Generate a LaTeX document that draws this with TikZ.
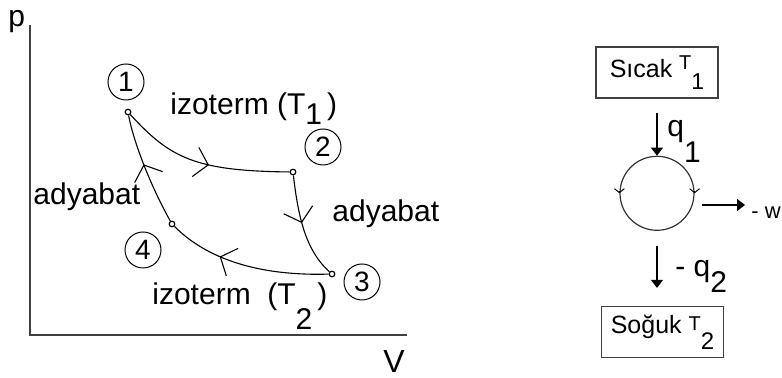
\documentclass[tikz,border=0pt]{standalone}
\usepackage{fontspec}
\setmainfont{Liberation Sans}
\usetikzlibrary{arrows.meta, positioning, decorations.markings}
\newcommand{\lowsub}[2]{\raisebox{-#1}{#2}}
\tikzset{
  plottext/.style  = {anchor=base west, inner sep=0pt, font=\fontsize{15}{18}\selectfont},
  statenum/.style  = {draw, circle, minimum size=18pt, inner sep=0pt, line width=0.5pt,
                      font=\fontsize{14}{16}\selectfont},
  statept/.style   = {draw, circle, minimum size=2.8pt, inner sep=0pt, line width=0.6pt},
  process/.style   = {-, line width=0.55pt},
  midbarb/.style   = {postaction={decorate}, decoration={markings,
                      mark=at position #1 with {\arrow{Straight Barb[length=6.5pt,width=15pt]}}}},
  axis/.style      = {-, line width=0.8pt, black!75},
  reservoir/.style = {draw=black!75, line width=0.7pt, minimum width=61pt,
                      minimum height=25.5pt, inner sep=0pt, font=\fontsize{12.5}{14}\selectfont},
  enginecirc/.style= {draw=black!80, circle, line width=0.6pt, minimum size=37pt, inner sep=0pt},
  heatflow/.style  = {-{Triangle[length=4pt,width=6pt]}, line width=0.6pt},
  ticktip/.style   = {-{Straight Barb[length=2pt,width=5pt]}, line width=0.5pt},
}

\begin{document}
\begin{tikzpicture}[x=0.5pt, y=-0.5pt]
    \useasboundingbox (0,0) rectangle (782,378);

    % --- axes ---------------------------------------------------------------
    \coordinate (ptop) at (30,25);
    \coordinate (origin) at (30,335);
    \coordinate (vend) at (407,335);
    \draw[axis] (ptop) -- (origin) -- (vend);
    \node[plottext, font=\fontsize{15}{18}\selectfont] (plab) at (8,27) {p};
    \node[plottext, font=\fontsize{16}{18}\selectfont] (vlab) at (383,373) {V};

    % --- states -------------------------------------------------------------
    \node[statept] (s1) at (128,112) {};
    \node[statept] (s2) at (293,172) {};
    \node[statept] (s3) at (332,274) {};
    \node[statept] (s4) at (172,224) {};
    \node[statenum] (n1) at (126,82)  {1};
    \node[statenum] (n2) at (323,147) {2};
    \node[statenum] (n3) at (362,282) {3};
    \node[statenum] (n4) at (143,250) {4};

    % --- processes ----------------------------------------------------------
    \draw[process, midbarb=0.54] (s1) .. controls (170,158) and (195,171) .. (s2);
    \draw[process, midbarb=0.46] (s2) .. controls (298,215) and (305,250) .. (s3);
    \draw[process, midbarb=0.67] (s3) .. controls (265,276) and (210,262) .. (s4);
    \draw[process, midbarb=0.55] (s4) .. controls (150,185) and (133,140) .. (s1);

    \node[plottext] (iso1) at (170,115) {izoterm (T\lowsub{5pt}{1}\,)};
    \node[plottext] (adyL) at (33,205)  {adyabat};
    \node[plottext] (adyR) at (332,222) {adyabat};
    \node[plottext] (iso2) at (152,305) {izoterm\ \ (T\lowsub{12.5pt}{2}\,)};

    % --- heat engine --------------------------------------------------------
    \node[reservoir] (hot) at (657,72.5)
      {Sıcak \raisebox{4pt}{\fontsize{10}{10}\selectfont T}\lowsub{6pt}{\fontsize{11.5}{12}\selectfont 1}};
    \node[enginecirc, below=28.5pt of hot] (engine) {};
    \node[reservoir, below=37.5pt of engine, xshift=2.75pt] (cold)
      {Soğuk \raisebox{1.5pt}{\fontsize{10}{10}\selectfont T}\lowsub{8pt}{\fontsize{12}{12}\selectfont 2}};
    \draw[ticktip] ([yshift=1pt]engine.west) -- (engine.west);
    \draw[ticktip] ([yshift=1pt]engine.east) -- (engine.east);

    \coordinate (wend) at (745,205);
    \draw[heatflow, shorten <=7pt] (hot.south) -- (engine.north);
    \draw[heatflow, shorten <=7.5pt, shorten >=9pt] (engine.south) -- (engine.south |- cold.north);
    \draw[heatflow, shorten <=3.5pt] (engine.east |- wend) -- (wend);

    \node[plottext] (qin) at (667,137) {q\lowsub{13pt}{1}};
    \node[plottext] (qout) at (675,277) {- q\lowsub{8pt}{2}};
    \node[plottext, font=\fontsize{11}{13}\selectfont] (work) at (751,219) {- w};
  \end{tikzpicture}
\end{document}
